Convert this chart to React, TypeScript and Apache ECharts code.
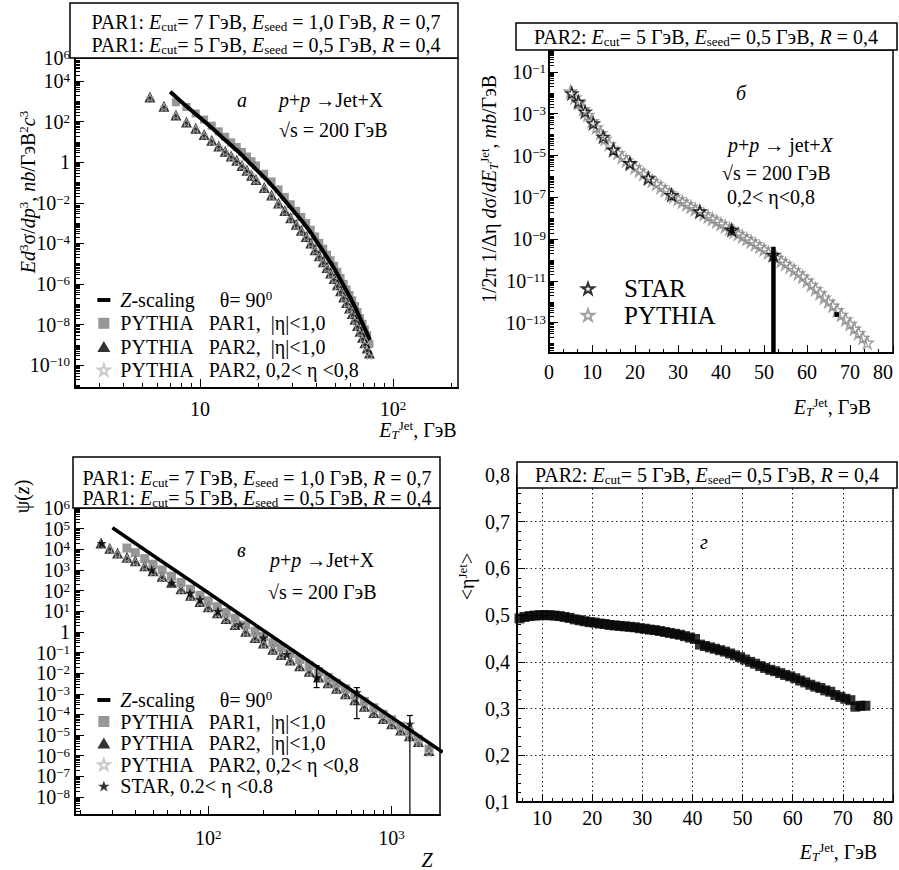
import React, { useEffect, useRef } from 'react';
import * as echarts from 'echarts';

const FONT = 'Liberation Serif, Times New Roman, serif';
const FS = 20;
const FS_SMALL = 13;

// ================= Panel а : Ed3σ/dp3 vs E_T^Jet =================
const etA = [5.5, 6.5, 7.5, 8.5, 9.5, 10.5, 11.5, 12.5, 13.5, 14.5, 15.5, 16.5, 17.5, 18.5, 19.5,
  21.5, 23.5, 25.5, 27.5, 29.5, 31.5, 33.5, 35.5, 37.5, 39.5, 41.5, 43.5, 45.5, 47.5, 49.5,
  51.5, 53.5, 55.5, 57.5, 59.5, 61.5, 63.5, 65.5, 67.5, 69.5, 71.5, 73.5, 75.5];
const pythiaPar1A = [null, null, 890, 520, 250, 126, 63, 33, 17.8, 9.5, 5.6, 3.2, 1.9, 1.12, 0.69,
  0.27, 0.112, 0.046, 0.0195, 8.5e-3, 4.0e-3, 2.0e-3, 1.0e-3, 4.7e-4, 2.2e-4, 1.07e-4, 5.5e-5, 2.8e-5, 1.48e-5, 7.9e-6,
  4.0e-6, 2.0e-6, 1.02e-6, 5.4e-7, 2.9e-7, 1.58e-7, 8.3e-8, 4.2e-8, 2.1e-8, 1.1e-8, 5.8e-9, 3.0e-9, 1.12e-9];
const pythiaPar2A = [1600, 560, 210, 95, 47, 23, 12, 6.3, 3.5, 2.0, 1.23, 0.69, 0.40, 0.23, 0.14,
  0.056, 0.024, 9.8e-3, 4.2e-3, 1.82e-3, 8.7e-4, 4.4e-4, 2.2e-4, 1.05e-4, 4.9e-5, 2.45e-5, 1.26e-5, 6.6e-6, 3.5e-6, 1.86e-6,
  9.1e-7, 4.6e-7, 2.3e-7, 1.23e-7, 6.6e-8, 3.5e-8, 1.82e-8, 9.1e-9, 4.7e-9, 2.4e-9, 1.29e-9, 7.1e-10, 4.0e-10];
const pythiaPar2EtaA = [1500, 520, 200, 89, 44, 21, 11, 5.9, 3.2, 1.86, 1.12, 0.65, 0.37, 0.22, 0.13,
  0.051, 0.022, 8.9e-3, 3.8e-3, 1.66e-3, 7.9e-4, 4.0e-4, 2.0e-4, 9.5e-5, 4.5e-5, 2.2e-5, 1.12e-5, 5.9e-6, 3.1e-6, 1.66e-6,
  8.1e-7, 4.1e-7, 2.1e-7, 1.1e-7, 5.8e-8, 3.1e-8, 1.58e-8, 7.9e-9, 4.0e-9, 2.0e-9, 1.07e-9, 5.6e-10, 2.8e-10];
const zScalingEtA = [7, 8, 9, 10, 11, 12, 13, 14, 15, 16, 18, 20, 22, 25, 28, 31, 34, 37, 40, 43, 46, 49, 52, 55, 58, 61, 64, 67, 70, 73, 76];
const zScalingA = [2900, 950, 360, 155, 71, 34, 17.0, 9.1, 5.0, 2.95, 0.95, 0.355, 0.145, 0.038, 0.0107, 3.3e-3, 1.17e-3,
  4.1e-4, 1.32e-4, 4.8e-5, 1.78e-5, 7.2e-6, 2.6e-6, 9.8e-7, 3.9e-7, 1.58e-7, 6.3e-8, 2.4e-8, 9.8e-9, 4.1e-9, 1.74e-9];

// ================= Panel б : 1/2π 1/Δη dσ/dE_T vs E_T =================
const etB = [5, 6, 7, 8, 9, 10, 11, 12, 13, 14, 15, 16, 17, 18, 19, 20, 21, 22, 23, 24, 25, 26, 27, 28, 29, 30, 31, 32, 33, 34,
  35, 36, 37, 38, 39, 40, 41, 42, 43, 44, 45, 46, 47, 48, 49, 50, 51, 52, 53, 54, 55, 56, 57, 58, 59, 60, 61, 62, 63, 64,
  65, 66, 67, 68, 69, 70, 71, 72, 73, 74];
const pythiaB = [1.17e-2, 6.0e-3, 3.3e-3, 1.66e-3, 8.9e-4, 4.4e-4, 2.24e-4, 1.17e-4, 6.3e-5, 3.5e-5,
  2.1e-5, 1.32e-5, 8.5e-6, 5.8e-6, 4.0e-6, 2.75e-6, 1.9e-6, 1.32e-6, 8.9e-7, 6.2e-7,
  4.4e-7, 3.1e-7, 2.2e-7, 1.55e-7, 1.12e-7, 8.3e-8, 6.2e-8, 4.7e-8, 3.5e-8, 2.7e-8,
  2.1e-8, 1.58e-8, 1.2e-8, 9.3e-9, 7.1e-9, 5.4e-9, 4.1e-9, 3.1e-9, 2.3e-9, 1.8e-9,
  1.35e-9, 1.02e-9, 7.8e-10, 5.8e-10, 4.3e-10, 3.2e-10, 2.3e-10, 1.7e-10, 1.26e-10, 9.1e-11,
  6.6e-11, 4.7e-11, 3.3e-11, 2.3e-11, 1.6e-11, 1.02e-11, 6.5e-12, 4.1e-12, 2.6e-12, 1.6e-12,
  1.02e-12, 6.5e-13, 4.0e-13, 2.4e-13, 1.45e-13, 8.7e-14, 5.2e-14, 3.2e-14, 1.9e-14, 1.1e-14];
const starEtB = [5.3, 6.8, 8.4, 10.3, 12.6, 15.0, 18.8, 23.1, 28.5, 35.1, 42.5, 52.2];
const starB = [9.5e-3, 3.8e-3, 1.26e-3, 3.5e-4, 7.9e-5, 1.86e-5, 4.3e-6, 8.1e-7, 1.29e-7, 2.1e-8, 2.75e-9, 1.74e-10];
const starErrEtB = [42.5, 52.2, 66.9];
const starErrLowB = [1.9e-9, 1e-16, 1.9e-13];
const starErrHighB = [3.9e-9, 4.3e-10, 3.2e-13];

// ================= Panel в : ψ(z) vs z =================
const zV = [26, 29, 32, 36, 40, 45, 50, 56, 63, 71, 80, 90, 100, 112, 125, 140, 160, 180, 200, 225, 250, 280, 315, 355,
  400, 450, 500, 560, 630, 710, 800, 900, 1000, 1120, 1250, 1400, 1600];
const pythiaPar1V = [null, null, null, 1.15e4, 6.9e3, 3.5e3, 1.9e3, 1.0e3, 500, 245, 117, 59, 32, 16.6, 8.7, 4.6, 2.14, 1.07,
  0.59, 0.30, 0.17, 0.089, 0.046, 0.023, 0.012, 6.2e-3, 3.3e-3, 1.74e-3, 8.7e-4, 4.3e-4, 2.1e-4, 1.02e-4, 5.5e-5, 2.7e-5,
  1.32e-5, 6.3e-6, 2.1e-6];
const pythiaPar2V = [2.0e4, 1.12e4, 6.6e3, 4.1e3, 2.75e3, 1.58e3, 910, 490, 250, 123, 59, 30, 16.6, 8.5, 4.5, 2.3, 1.07, 0.54,
  0.29, 0.145, 0.081, 0.044, 0.023, 0.0123, 6.5e-3, 3.4e-3, 1.86e-3, 1.0e-3, 5.1e-4, 2.5e-4, 1.26e-4, 6.3e-5, 3.5e-5,
  1.78e-5, 9.3e-6, 4.9e-6, 1.78e-6];
const pythiaPar2EtaV = [1.9e4, 1.05e4, 6.0e3, 3.7e3, 2.5e3, 1.45e3, 830, 450, 230, 112, 54, 28, 15, 7.8, 4.1, 2.1, 0.98, 0.49,
  0.26, 0.132, 0.074, 0.040, 0.021, 0.0112, 5.9e-3, 3.1e-3, 1.7e-3, 9.1e-4, 4.7e-4, 2.3e-4, 1.15e-4, 5.8e-5, 3.2e-5,
  1.62e-5, 8.5e-6, 4.4e-6, 1.32e-6];
const zScalingZV = [30, 50, 100, 200, 500, 1000, 1900];
const zScalingV = [1.1e5, 5.0e3, 78, 1.17, 4.7e-3, 7.2e-5, 1.48e-6];
const starZV = [26.2, 49.1, 63.1, 79.5, 90.1, 113, 149, 200, 268, 390, 646, 1258];
const starV = [1.95e4, 1.02e3, 234, 76, 37, 10, 2.3, 0.52, 0.083, 6.2e-3, 1.17e-3, 3.5e-5];
const starErrZV = [390, 646, 1258];
const starErrLowV = [2.0e-3, 6.3e-5, 1e-12];
const starErrHighV = [2.3e-2, 2.0e-3, 8.9e-5];

// ================= Panel г : <η^Jet> vs E_T =================
const etG = [5.5, 6.5, 7.5, 8.5, 9.5, 10.5, 11.5, 12.5, 13.5, 14.5, 15.5, 16.5, 17.5, 18.5, 19.5, 20.5, 21.5, 22.5, 23.5, 24.5,
  25.5, 26.5, 27.5, 28.5, 29.5, 30.5, 31.5, 32.5, 33.5, 34.5, 35.5, 36.5, 37.5, 38.5, 39.5, 40.5, 41.5, 42.5, 43.5, 44.5,
  45.5, 46.5, 47.5, 48.5, 49.5, 50.5, 51.5, 52.5, 53.5, 54.5, 55.5, 56.5, 57.5, 58.5, 59.5, 60.5, 61.5, 62.5, 63.5, 64.5,
  65.5, 66.5, 67.5, 68.5, 69.5, 70.5, 71.5, 72.5, 73.5, 74.5];
const etaG = [0.493, 0.496, 0.498, 0.499, 0.500, 0.500, 0.500, 0.499, 0.498, 0.496, 0.494, 0.491, 0.489, 0.487, 0.485, 0.484,
  0.482, 0.481, 0.479, 0.478, 0.477, 0.476, 0.475, 0.474, 0.472, 0.471, 0.469, 0.468, 0.466, 0.464, 0.462, 0.460, 0.458,
  0.455, 0.452, 0.449, 0.437, 0.434, 0.431, 0.428, 0.425, 0.422, 0.418, 0.414, 0.410, 0.405, 0.400, 0.396, 0.391, 0.387,
  0.383, 0.380, 0.376, 0.372, 0.369, 0.365, 0.360, 0.356, 0.351, 0.347, 0.344, 0.339, 0.336, 0.329, 0.325, 0.321, 0.318,
  0.304, 0.306, 0.306];

// ================= Tick labels (decades / values) =================
const yLabelDecadesA = [-10, -8, -6, -4, -2, 0, 2, 4];
const xLabelDecadesA = [1, 2];
const yLabelDecadesB = [-13, -11, -9, -7, -5, -3, -1];
const xLabelsB = [0, 10, 20, 30, 40, 50, 60, 70, 80];
const yLabelDecadesV = [-8, -7, -6, -5, -4, -3, -2, -1, 0, 1, 2, 3, 4, 5, 6];
const xLabelDecadesV = [2, 3];
const xLabelsG = [10, 20, 30, 40, 50, 60, 70, 80];
const xMinorG = [6, 8, 12, 14, 16, 18, 22, 24, 26, 28, 32, 34, 36, 38, 42, 44, 46, 48, 52, 54, 56, 58, 62, 64, 66, 68, 72, 74, 76, 78];

// ================= helpers =================
const lg = (v: number) => Math.log10(v);
const STAR_PATH = 'path://M50,2 L61.8,36.2 L97.6,36.2 L68.6,57.4 L79.4,91.6 L50,70.6 L20.6,91.6 L31.4,57.4 L2.4,36.2 L38.2,36.2 Z';
const SQUARE_PATH = 'path://M0,0 L10,0 L10,10 L0,10 Z';

const mk = (size: number, italic: boolean, extra: any) => ({
  fontFamily: FONT, fontSize: size, fontStyle: italic ? 'italic' : 'normal', color: '#000', fill: '#000', ...extra,
});
const RICH: any = {
  n: mk(FS, false, { lineHeight: 22 }),
  i: mk(FS, true, { lineHeight: 22 }),
  sub: mk(FS_SMALL, false, { lineHeight: 8, verticalAlign: 'bottom' }),
  isub: mk(FS_SMALL, true, { lineHeight: 8, verticalAlign: 'bottom' }),
  sup: mk(FS_SMALL, false, { lineHeight: 10, verticalAlign: 'top' }),
  b: mk(FS, false, { lineHeight: 20 }),
  s: mk(FS_SMALL, false, { lineHeight: 10, verticalAlign: 'top' }),
  big: mk(25, false, { lineHeight: 25 }),
};

const pts = (xs: number[], ys: any[], logX: boolean, logY: boolean) => {
  const out: number[][] = [];
  xs.forEach((x, i) => {
    const y = ys[i];
    if (y == null) return;
    out.push([logX ? lg(x) : x, logY ? lg(y) : y]);
  });
  return out;
};

const minorLog = (lo: number, hi: number, majors: number[]) => {
  const out: number[] = [];
  for (let n = Math.floor(lo) - 1; n <= Math.ceil(hi); n++) {
    for (let k = 1; k <= 9; k++) {
      if (k === 1 && majors.indexOf(n) >= 0) continue;
      const v = n + lg(k);
      if (v > lo + 1e-6 && v < hi - 1e-6) out.push(+v.toFixed(6));
    }
  }
  return out;
};

const powFmt = (v: number) => {
  const n = Math.round(v);
  if (n === 0) return '{b|1}';
  return '{b|10}{s|' + (n < 0 ? '\u2212' + (-n) : String(n)) + '}';
};

const tickLine = { color: '#000', width: 1 };
const mainLine = { show: true, onZero: false, lineStyle: { color: '#000', width: 2 } };
const labelBase = { color: '#000', fontFamily: FONT, fontSize: FS, rich: RICH };
const nameStyle = (pad: number[]) => ({ color: '#000', fontFamily: FONT, fontSize: FS, rich: RICH, padding: pad });

const minorAxis = (gridIndex: number, min: number, max: number, position: string, values: number[], len = 5) => ({
  gridIndex, type: 'value', min, max, position, show: true,
  axisLine: { show: false, onZero: false },
  axisLabel: { show: false },
  splitLine: { show: false },
  axisTick: { show: true, inside: true, length: len, lineStyle: tickLine, customValues: values },
});

const errRender = (width: number, cap: number) => (params: any, api: any) => {
  const x = api.value(0);
  const a = api.coord([x, api.value(1)]);
  const b = api.coord([x, api.value(2)]);
  const children: any[] = [
    { type: 'line', shape: { x1: a[0], y1: a[1], x2: b[0], y2: b[1] }, style: { stroke: '#000', lineWidth: width } },
  ];
  if (cap > 0) {
    children.push({ type: 'line', shape: { x1: a[0] - cap, y1: a[1], x2: a[0] + cap, y2: a[1] }, style: { stroke: '#000', lineWidth: 1.2 } });
    children.push({ type: 'line', shape: { x1: b[0] - cap, y1: b[1], x2: b[0] + cap, y2: b[1] }, style: { stroke: '#000', lineWidth: 1.2 } });
  }
  return { type: 'group', children };
};

const tx = (x: number, y: number, text: string, align = 'left') => ({
  type: 'text', x, y, z: 101,
  style: {
    text, rich: RICH, fill: '#000', fontFamily: FONT, fontSize: FS,
    align, textAlign: align, verticalAlign: 'middle', textVerticalAlign: 'middle',
  },
});
const box = (x: number, y: number, w: number, h: number) => ({
  type: 'rect', z: 100, shape: { x, y, width: w, height: h },
  style: { fill: '#fff', stroke: '#000', lineWidth: 1.5 },
});

const N = {
  zA: 'Z-scaling (а)', p1A: 'PYTHIA PAR1 |η|<1,0 (а)', p2A: 'PYTHIA PAR2 |η|<1,0 (а)', p3A: 'PYTHIA PAR2 0,2<η<0,8 (а)',
  starB: 'STAR (б)', pyB: 'PYTHIA (б)',
  zV: 'Z-scaling (в)', p1V: 'PYTHIA PAR1 |η|<1,0 (в)', p2V: 'PYTHIA PAR2 |η|<1,0 (в)', p3V: 'PYTHIA PAR2 0,2<η<0,8 (в)',
  starV: 'STAR 0.2<η<0.8 (в)',
};
const NB = '\u00a0';
const LEG: any = {
  [N.zA]: `{i|Z}{n|-scaling${NB}${NB}${NB}${NB}${NB}θ= 90}{sup|0}`,
  [N.p1A]: `{n|PYTHIA${NB}${NB}${NB}PAR1,${NB}${NB}|η|<1,0}`,
  [N.p2A]: `{n|PYTHIA${NB}${NB}${NB}PAR2,${NB}${NB}|η|<1,0}`,
  [N.p3A]: `{n|PYTHIA${NB}${NB}${NB}PAR2, 0,2< η <0,8}`,
  [N.zV]: `{i|Z}{n|-scaling${NB}${NB}${NB}${NB}${NB}θ= 90}{sup|0}`,
  [N.p1V]: `{n|PYTHIA${NB}${NB}${NB}PAR1,${NB}${NB}|η|<1,0}`,
  [N.p2V]: `{n|PYTHIA${NB}${NB}${NB}PAR2,${NB}${NB}|η|<1,0}`,
  [N.p3V]: `{n|PYTHIA${NB}${NB}${NB}PAR2, 0,2< η <0,8}`,
  [N.starV]: `{n|STAR, 0.2< η <0.8}`,
  [N.starB]: '{big|STAR}',
  [N.pyB]: '{big|PYTHIA}',
};

function buildOption() {
  const XA = [0.352, 2.337], YA = [-11.12, 5.13];
  const YB = [-14.45, 0.05];
  const XV = [1.273, 3.264], YV = [-8.87, 6];

  const gridBase = { show: true, borderColor: '#000', borderWidth: 1.5, backgroundColor: 'transparent', containLabel: false, outerBoundsMode: 'none' };

  const ETNAME = '{i|E}{isub|T}{sup|Jet}{n|, ГэВ}';

  const xAxis: any[] = [
    {
      gridIndex: 0, type: 'value', min: XA[0], max: XA[1], position: 'bottom',
      axisLine: mainLine,
      axisTick: { show: true, inside: true, length: 9, lineStyle: tickLine, customValues: xLabelDecadesA },
      axisLabel: { ...labelBase, margin: 11, customValues: xLabelDecadesA, formatter: (v: number) => (Math.round(v) === 1 ? '{b|10}' : powFmt(v)) },
      splitLine: { show: false },
      name: ETNAME, nameLocation: 'middle', nameGap: 31, nameMoveOverlap: false, nameTextStyle: nameStyle([0, 0, 0, 303]),
    },
    minorAxis(0, XA[0], XA[1], 'bottom', minorLog(XA[0], XA[1], xLabelDecadesA)),
    {
      gridIndex: 1, type: 'value', min: 0, max: 80, interval: 10, position: 'bottom',
      axisLine: mainLine,
      axisTick: { show: true, inside: true, length: 8, lineStyle: tickLine },
      minorTick: { show: true, splitNumber: 3, length: 4, lineStyle: tickLine },
      axisLabel: { ...labelBase, margin: 9, alignMaxLabel: 'right', formatter: (v: number) => (xLabelsB.indexOf(v) >= 0 ? String(v) : '') },
      splitLine: { show: false },
      name: ETNAME, nameLocation: 'middle', nameGap: 43, nameMoveOverlap: false, nameTextStyle: nameStyle([0, 0, 0, 223]),
    },
    {
      gridIndex: 2, type: 'value', min: XV[0], max: XV[1], position: 'bottom',
      axisLine: mainLine,
      axisTick: { show: true, inside: true, length: 9, lineStyle: tickLine, customValues: xLabelDecadesV },
      axisLabel: { ...labelBase, margin: 13, customValues: xLabelDecadesV, formatter: powFmt },
      splitLine: { show: false },
      name: '{i|Z}', nameLocation: 'middle', nameGap: 34, nameMoveOverlap: false, nameTextStyle: nameStyle([0, 0, 0, 339]),
    },
    minorAxis(2, XV[0], XV[1], 'bottom', minorLog(XV[0], XV[1], xLabelDecadesV)),
    {
      gridIndex: 3, type: 'value', min: 5, max: 80, position: 'bottom',
      axisLine: mainLine,
      axisTick: { show: true, inside: true, length: 8, lineStyle: tickLine, customValues: xLabelsG },
      axisLabel: { ...labelBase, margin: 6, alignMaxLabel: 'right', customValues: xLabelsG, formatter: (v: number) => String(v) },
      splitLine: { show: true, lineStyle: { color: '#222', width: 1, type: [1.5, 3] } },
      name: ETNAME, nameLocation: 'middle', nameGap: 39, nameMoveOverlap: false, nameTextStyle: nameStyle([0, 0, 0, 267]),
    },
    minorAxis(3, 5, 80, 'bottom', xMinorG, 4),
  ];

  const yAxis: any[] = [
    {
      gridIndex: 0, type: 'value', min: YA[0], max: YA[1], position: 'left',
      axisLine: mainLine,
      axisTick: { show: true, inside: true, length: 9, lineStyle: tickLine, customValues: yLabelDecadesA },
      axisLabel: {
        ...labelBase, margin: 5, customValues: [...yLabelDecadesA, YA[1]],
        formatter: (v: number) => (v > 4.5 ? '{b|10}{s|6}' : powFmt(v)),
      },
      splitLine: { show: false },
      name: '{i|Ed}{sup|3}{n|σ/}{i|dp}{sup|3}{n|, }{i|nb}{n|/ГэВ}{sup|2}{i|c}{sup|3}',
      nameLocation: 'middle', nameRotate: 90, nameGap: 36, nameMoveOverlap: false, nameTextStyle: nameStyle([0, 0, 0, 62]),
    },
    minorAxis(0, YA[0], YA[1], 'left', minorLog(YA[0], YA[1], yLabelDecadesA)),
    {
      gridIndex: 1, type: 'value', min: YB[0], max: YB[1], position: 'left',
      axisLine: mainLine,
      axisTick: { show: true, inside: true, length: 9, lineStyle: tickLine, customValues: yLabelDecadesB },
      axisLabel: { ...labelBase, margin: 3, customValues: yLabelDecadesB, formatter: powFmt },
      splitLine: { show: false },
      name: '{n|1/2π 1/Δη }{i|d}{n|σ/}{i|dE}{isub|T}{sup|Jet}{n|, }{i|mb}{n|/ГэВ}',
      nameLocation: 'middle', nameRotate: 90, nameGap: 49, nameMoveOverlap: false, nameTextStyle: nameStyle([0, 0, 0, 25]),
    },
    minorAxis(1, YB[0], YB[1], 'left', minorLog(YB[0], YB[1], yLabelDecadesB)),
    {
      gridIndex: 2, type: 'value', min: YV[0], max: YV[1], position: 'left',
      axisLine: mainLine,
      axisTick: { show: true, inside: true, length: 9, lineStyle: tickLine, customValues: yLabelDecadesV },
      axisLabel: { ...labelBase, margin: 5, customValues: yLabelDecadesV, formatter: powFmt },
      splitLine: { show: false },
      name: '{n|ψ(}{i|z}{n|)}',
      nameLocation: 'middle', nameRotate: 90, nameGap: 42, nameMoveOverlap: false, nameTextStyle: nameStyle([0, 0, 0, 330]),
    },
    minorAxis(2, YV[0], YV[1], 'left', minorLog(YV[0], YV[1], yLabelDecadesV)),
    {
      gridIndex: 3, type: 'value', min: 0.1, max: 0.8, interval: 0.1, position: 'left',
      axisLine: mainLine,
      axisTick: { show: true, inside: true, length: 8, lineStyle: tickLine },
      minorTick: { show: true, splitNumber: 5, length: 4, lineStyle: tickLine },
      axisLabel: { ...labelBase, margin: 7, formatter: (v: number) => v.toFixed(1).replace('.', ',') },
      splitLine: { show: true, lineStyle: { color: '#222', width: 1, type: [1.5, 3] } },
      name: '{n|<η}{sup|Jet}{n|>}',
      nameLocation: 'middle', nameRotate: 90, nameGap: 39, nameMoveOverlap: false, nameTextStyle: nameStyle([0, 0, 0, 124]),
    },
  ];

  const legendText = { color: '#000', fontFamily: FONT, fontSize: FS, rich: RICH, padding: [0, 0, 0, 5] };

  const legend: any[] = [
    {
      orient: 'vertical', left: 97, top: 289, padding: 0, itemGap: 3.3, itemWidth: 13, itemHeight: 11, selectedMode: false,
      data: [
        { name: N.zA, icon: 'path://M0,0 L10,0 L10,3 L0,3 Z' },
        { name: N.p1A, icon: SQUARE_PATH },
        { name: N.p2A, icon: 'triangle' },
        { name: N.p3A, icon: STAR_PATH },
      ],
      formatter: (name: string) => LEG[name], textStyle: legendText,
    },
    {
      orient: 'vertical', left: 581, top: 276, padding: 0, itemGap: 1.5, itemWidth: 12, itemHeight: 12, selectedMode: false,
      data: [{ name: N.starB, icon: STAR_PATH }, { name: N.pyB, icon: STAR_PATH }],
      formatter: (name: string) => LEG[name], textStyle: { ...legendText, fontSize: 25, padding: [0, 0, 0, 25] },
    },
    {
      orient: 'vertical', left: 97, top: 689, padding: 0, itemGap: 1.5, itemWidth: 13, itemHeight: 11, selectedMode: false,
      data: [
        { name: N.zV, icon: 'path://M0,0 L10,0 L10,3 L0,3 Z' },
        { name: N.p1V, icon: SQUARE_PATH },
        { name: N.p2V, icon: 'triangle' },
        { name: N.p3V, icon: STAR_PATH },
        { name: N.starV, icon: STAR_PATH },
      ],
      formatter: (name: string) => LEG[name], textStyle: legendText,
    },
  ];

  const outlineStar = (color: string, width: number) => ({ color: 'rgba(255,255,255,0)', borderColor: color, borderWidth: width });

  const series: any[] = [
    { name: N.p1A, type: 'scatter', xAxisIndex: 0, yAxisIndex: 0, symbol: 'rect', symbolSize: 8,
      itemStyle: { color: '#7d7d7d' }, data: pts(etA, pythiaPar1A, true, true) },
    { name: N.p2A, type: 'scatter', xAxisIndex: 0, yAxisIndex: 0, symbol: 'triangle', symbolSize: 11,
      itemStyle: { color: '#000' }, data: pts(etA, pythiaPar2A, true, true) },
    { name: N.p3A, type: 'scatter', xAxisIndex: 0, yAxisIndex: 0, symbol: STAR_PATH, symbolSize: 8,
      itemStyle: outlineStar('#bdbdbd', 1), data: pts(etA, pythiaPar2EtaA, true, true) },
    { name: N.zA, type: 'line', xAxisIndex: 0, yAxisIndex: 0, symbol: 'none', showSymbol: false,
      lineStyle: { color: '#000', width: 4 }, itemStyle: { color: '#000' }, data: pts(zScalingEtA, zScalingA, true, true) },
    { name: N.pyB, type: 'scatter', xAxisIndex: 2, yAxisIndex: 2, symbol: STAR_PATH, symbolSize: 12,
      itemStyle: outlineStar('#8a8a8a', 1.4), data: pts(etB, pythiaB, false, true) },
    { name: N.starB, type: 'scatter', xAxisIndex: 2, yAxisIndex: 2, symbol: STAR_PATH, symbolSize: 12,
      itemStyle: outlineStar('#000', 1.4), data: pts(starEtB, starB, false, true) },
    { name: 'STAR errors (б)', type: 'custom', xAxisIndex: 2, yAxisIndex: 2, clip: true, z: 4,
      encode: { x: 0, y: [1, 2] }, renderItem: errRender(4.5, 0),
      data: starErrEtB.map((x, i) => [x, lg(starErrLowB[i]), lg(starErrHighB[i])]) },
    { name: N.p2V, type: 'scatter', xAxisIndex: 3, yAxisIndex: 4, symbol: 'triangle', symbolSize: 11,
      itemStyle: { color: '#000' }, data: pts(zV, pythiaPar2V, true, true) },
    { name: N.p1V, type: 'scatter', xAxisIndex: 3, yAxisIndex: 4, symbol: 'rect', symbolSize: 9,
      itemStyle: { color: '#7d7d7d' }, data: pts(zV, pythiaPar1V, true, true) },
    { name: N.p3V, type: 'scatter', xAxisIndex: 3, yAxisIndex: 4, symbol: STAR_PATH, symbolSize: 8,
      itemStyle: outlineStar('#bdbdbd', 1), data: pts(zV, pythiaPar2EtaV, true, true) },
    { name: N.starV, type: 'scatter', xAxisIndex: 3, yAxisIndex: 4, symbol: STAR_PATH, symbolSize: 10,
      itemStyle: { color: '#000' }, data: pts(starZV, starV, true, true) },
    { name: 'STAR errors (в)', type: 'custom', xAxisIndex: 3, yAxisIndex: 4, clip: true, z: 4,
      encode: { x: 0, y: [1, 2] }, renderItem: errRender(1.2, 3),
      data: starErrZV.map((x, i) => [lg(x), lg(starErrLowV[i]), lg(starErrHighV[i])]) },
    { name: N.zV, type: 'line', xAxisIndex: 3, yAxisIndex: 4, symbol: 'none', showSymbol: false, clip: true,
      lineStyle: { color: '#000', width: 3.5 }, itemStyle: { color: '#000' }, data: pts(zScalingZV, zScalingV, true, true) },
    { name: '<η Jet> (г)', type: 'scatter', xAxisIndex: 5, yAxisIndex: 6, symbol: 'rect', symbolSize: 10,
      itemStyle: { color: '#000' }, data: pts(etG, etaG, false, false) },
  ];

  const L1 = (e: string, seed: string, r: string) =>
    `{n|PAR1: }{i|E}{sub|cut}{n|= ${e} ГэВ, }{i|E}{sub|seed}{n|${NB}= ${seed} ГэВ, }{i|R}{n|${NB}= ${r}}`;
  const L2 = `{n|PAR2: }{i|E}{sub|cut}{n|= 5 ГэВ, }{i|E}{sub|seed}{n|= 0,5 ГэВ, }{i|R}{n|${NB}= 0,4}`;
  const PP = (tail: string) => `{i|p}{n|+}{i|p}{n|${NB}${tail}}`;

  const graphic: any[] = [
    box(70, 3, 388, 55),
    tx(266, 22, L1('7', '1,0', '0,7'), 'center'),
    tx(266, 45, L1('5', '0,5', '0,4'), 'center'),
    tx(237, 100, '{i|а}'),
    tx(279, 100, PP('→Jet+X')),
    tx(279, 130, '{n|√s = 200 ГэВ}'),
    box(516, 23, 381, 27),
    tx(706, 37, L2, 'center'),
    tx(736, 93, '{i|б}'),
    tx(728, 145, '{i|p}{n|+}{i|p}{n|' + NB + '→ jet+}{i|X}'),
    tx(722, 173, '{n|√s = 200 ГэВ}'),
    tx(727, 197, '{n|0,2< η<0,8}'),
    box(73, 457, 367, 51),
    tx(257, 478, L1('7', '1,0', '0,7'), 'center'),
    tx(257, 498, L1('5', '0,5', '0,4'), 'center'),
    tx(237, 550, '{i|в}'),
    tx(270, 560, PP('→Jet+X')),
    tx(268, 592, '{n|√s = 200 ГэВ}'),
    box(517, 462, 380, 26),
    tx(707, 475, L2, 'center'),
    tx(700, 542, '{i|г}'),
  ];

  return {
    animation: false,
    backgroundColor: '#fff',
    textStyle: { fontFamily: FONT },
    grid: [
      { ...gridBase, left: 75, top: 58, width: 383, height: 330 },
      { ...gridBase, left: 549, top: 50, width: 344, height: 303 },
      { ...gridBase, left: 75, top: 508, width: 365, height: 307 },
      { ...gridBase, left: 517, top: 475, width: 376, height: 327 },
    ],
    xAxis, yAxis, legend, series, graphic,
  };
}

export default function App() {
  const ref = useRef<HTMLDivElement>(null);
  useEffect(() => {
    const chart = echarts.init(ref.current as HTMLDivElement, null, { renderer: 'svg' });
    chart.setOption(buildOption() as any);
    return () => chart.dispose();
  }, []);
  return (
    <>
      <style>{'svg text, svg tspan { font-family: "Liberation Serif", "Times New Roman", serif !important; }'}</style>
      <div ref={ref} style={{ position: 'absolute', left: 0, top: 0, width: 899, height: 870, background: '#fff' }} />
    </>
  );
}
